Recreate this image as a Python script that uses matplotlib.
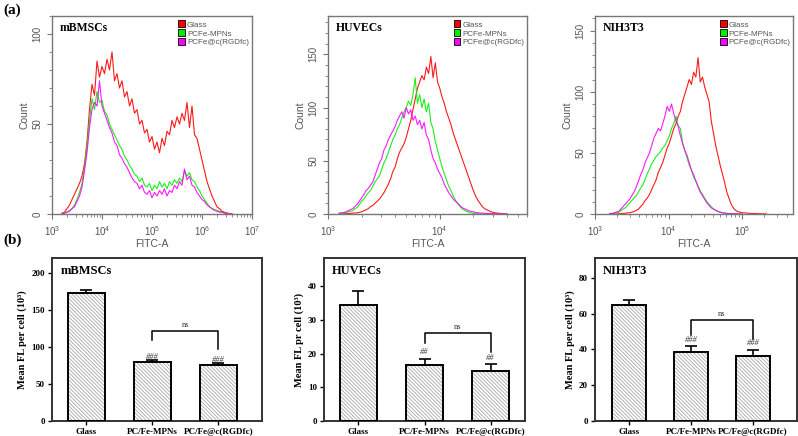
import numpy as np
import matplotlib
matplotlib.use("Agg")
import matplotlib.pyplot as plt
from matplotlib.patches import Patch
from matplotlib.ticker import MultipleLocator, LogLocator, NullFormatter

# ---- flow cytometry histograms (counts) ----
hist_labels = ["Glass", "PCFe-MPNs", "PCFe@c(RGDfc)"]
hist_colors = ["#ff0000", "#00ee00", "#ff00ff"]

# mBMSCs: log10(FITC-A) from 3.20, step 0.05
mbmsc_glass = [0.5, 1, 3, 5, 8, 11, 14, 17, 21, 28, 40, 58, 72, 66, 85, 76, 82, 78, 86, 80,
               90, 74, 78, 70, 74, 65, 68, 60, 64, 56, 58, 50, 52, 45, 47, 40, 43, 36, 40, 34,
               42, 38, 46, 44, 52, 48, 54, 50, 56, 52, 62, 48, 60, 44, 42, 36, 30, 24, 18, 14,
               10, 7, 4, 3, 1.5, 1, 0.5, 0.3, 0]
mbmsc_mpn = [0.3, 0.5, 1, 2, 3, 5, 8, 12, 17, 26, 38, 52, 64, 58, 68, 62, 63, 57, 55, 50,
             47, 44, 41, 38, 36, 32, 30, 27, 25, 22, 21, 18, 20, 16, 15, 17, 13, 16, 14, 18,
             15, 17, 14, 18, 16, 19, 17, 20, 18, 24, 21, 23, 19, 18, 15, 13, 10, 8, 6, 4,
             3, 2.5, 2, 1.5, 1, 0.5, 0.3, 0.2, 0]
mbmsc_rgd = [0.3, 0.5, 1, 1.5, 3, 4, 7, 10, 15, 24, 34, 48, 58, 62, 60, 74, 60, 56, 52, 48,
             45, 40, 38, 33, 31, 28, 26, 23, 20, 18, 17, 14, 16, 12, 11, 13, 9, 12, 10, 13,
             11, 14, 10, 13, 12, 16, 14, 18, 16, 25, 19, 21, 16, 15, 12, 10, 8, 7, 5, 4,
             3, 2, 1.5, 1, 1, 0.5, 0.3, 0.2, 0]

# HUVECs: log10(FITC-A) from 3.10, step 0.02
huvec_glass = [0, 0, 0.2, 0.3, 0.5, 0.5, 0.8, 1, 1, 1.5, 2, 3, 4, 5, 7, 8, 10, 12, 14, 17,
               20, 24, 28, 33, 40, 44, 52, 58, 62, 66, 72, 80, 88, 98, 108, 118, 124, 130, 126, 138,
               132, 148, 128, 142, 124, 118, 110, 104, 96, 90, 84, 76, 70, 64, 58, 52, 46, 40, 34, 28,
               22, 17, 13, 10, 7, 5, 4, 3, 2, 1.5, 1, 0.8, 0.5, 0.3, 0.2, 0]
huvec_mpn = [0.5, 0.5, 1, 1.5, 2, 2.5, 3, 5, 6, 9, 12, 14, 17, 20, 22, 26, 30, 33, 36, 42,
             48, 52, 58, 64, 70, 74, 80, 84, 90, 96, 100, 106, 102, 112, 128, 104, 112, 100, 108, 96,
             104, 86, 80, 68, 60, 52, 44, 38, 32, 26, 22, 17, 13, 10, 7, 5, 3.5, 2.5, 1.5, 1,
             0.5, 0.3, 0.2, 0.1, 0, 0, 0, 0, 0, 0, 0, 0, 0, 0, 0, 0]
huvec_rgd = [1, 1, 1.5, 2, 3, 4, 5, 7, 9, 12, 15, 18, 22, 24, 27, 30, 36, 42, 48, 52,
             60, 64, 70, 74, 78, 82, 88, 92, 96, 90, 100, 94, 98, 88, 92, 84, 88, 80, 86, 74,
             70, 60, 52, 48, 42, 38, 34, 28, 24, 20, 17, 14, 12, 10, 8, 6, 5, 4, 3, 2.5,
             2, 1.5, 1.2, 1, 0.8, 0.6, 0.5, 0.4, 0.3, 0.3, 0.2, 0.2, 0.5, 0.2, 0.1, 0]

# NIH3T3: log10(FITC-A) from 3.20, step 0.03
nih_glass = [0, 0, 0, 0, 0.2, 0.3, 0.5, 0.5, 1, 1, 1.5, 2, 3, 4, 6, 8, 11, 13, 16, 20,
             24, 28, 34, 38, 42, 48, 54, 58, 64, 70, 74, 80, 84, 92, 98, 104, 110, 106, 116, 112,
             128, 108, 112, 104, 98, 92, 76, 66, 56, 48, 40, 33, 26, 18, 13, 8, 5, 3, 2, 1.5,
             1, 1, 0.8, 0.5, 0.5, 0.3, 0.5, 0.2, 0.3, 0, 0.2, 0]
nih_mpn = [0, 0.2, 0.5, 1, 1.5, 2.5, 4, 5, 7, 9, 11, 13, 15, 18, 21, 24, 28, 33, 37, 41,
           44, 47, 49, 51, 54, 56, 60, 64, 70, 74, 80, 72, 70, 58, 52, 46, 40, 36, 30, 27,
           23, 19, 16, 13, 10, 8, 6, 4, 3, 2, 1.5, 1, 0.8, 0.5, 0.4, 0.3, 0.2, 0.2, 0.1, 0, 0]
nih_rgd = [0.3, 0.5, 1, 1.5, 2, 4, 6, 8, 10, 12, 15, 18, 22, 27, 32, 36, 42, 46, 50, 56,
           62, 66, 70, 68, 74, 80, 88, 84, 90, 82, 76, 72, 64, 58, 52, 48, 42, 36, 32, 27,
           22, 18, 15, 12, 9, 7, 5, 4, 3, 2, 1.5, 1, 0.8, 0.5, 0.3, 0.3, 0.2, 0.2, 0.1, 0, 0]

# ---- mean fluorescence bar charts ----
groups = ["Glass", "PC/Fe-MPNs", "PC/Fe@c(RGDfc)"]
mbmsc_mean = [173, 79, 75]
mbmsc_err = [4, 3, 3.2]
huvec_mean = [34.4, 16.6, 14.8]
huvec_err = [4.0, 1.8, 2.1]
nih_mean = [65, 38.8, 36.5]
nih_err = [2.8, 2.8, 3.2]
mbmsc_marks = ["###", "###"]
huvec_marks = ["##", "##"]
nih_marks = ["###", "###"]

W, H = 798, 436
plt.rcParams["hatch.linewidth"] = 0.6
fig = plt.figure(figsize=(W / 100, H / 100), dpi=100)

SANS = ["Liberation Sans", "DejaVu Sans"]
SERIF = ["Liberation Serif", "DejaVu Serif"]
GRAY = "#555555"


def box(l, r, t, b):
    return [l / W, 1 - b / H, (r - l) / W, (b - t) / H]


def draw_hist(rect, start, step, curves, xmax, ymax, ymajor, title):
    ax = fig.add_axes(rect)
    for vals, col in zip(curves, hist_colors):
        x = 10 ** (start + step * np.arange(len(vals)))
        ax.plot(x, vals, color=col, lw=0.8, alpha=0.9)
    ax.set_xscale("log")
    ax.set_xlim(1e3, xmax)
    ax.set_ylim(0, ymax)
    ax.xaxis.set_major_locator(LogLocator(base=10, numticks=10))
    ax.xaxis.set_minor_locator(LogLocator(base=10, subs=np.arange(2, 10), numticks=20))
    ax.xaxis.set_minor_formatter(NullFormatter())
    ax.yaxis.set_major_locator(MultipleLocator(ymajor))
    ax.yaxis.set_minor_locator(MultipleLocator(10))
    for s in ax.spines.values():
        s.set_color("#777777")
        s.set_linewidth(1.0)
    ax.tick_params(which="both", direction="out", colors="#777777", labelcolor=GRAY,
                   labelsize=7)
    ax.tick_params(which="major", length=3.5)
    ax.tick_params(which="minor", length=2)
    for lab in ax.get_yticklabels():
        lab.set_rotation(90)
        lab.set_va("center")
        lab.set_family(SANS)
    for lab in ax.get_xticklabels():
        lab.set_family(SANS)
    ax.set_ylabel("Count", color=GRAY, fontsize=7.5, family=SANS, labelpad=2)
    ax.set_xlabel("FITC-A", color=GRAY, fontsize=7.5, family=SANS, labelpad=1)
    ax.text(0.04, 0.94, title, transform=ax.transAxes, family=SERIF, weight="bold",
            fontsize=8.5, va="center", ha="left")
    handles = [Patch(facecolor=c, edgecolor="black", lw=0.6) for c in hist_colors]
    leg = ax.legend(handles, hist_labels, loc="upper left", bbox_to_anchor=(0.6, 1.01),
                    frameon=False, prop={"family": SANS, "size": 5.8},
                    handlelength=0.8, handleheight=0.9, labelspacing=0.1,
                    handletextpad=0.25, borderpad=0.3)
    for t in leg.get_texts():
        t.set_color(GRAY)
    return ax


def draw_bars(rect, means, errs, xlim, ymax, ymajor, title, ylabel, marks,
              bracket, legs, mark_y):
    ax = fig.add_axes(rect)
    pos = np.arange(len(means))
    ax.bar(pos, means, width=0.55, color="white", edgecolor="#a8a8a8", lw=0,
           hatch="\\" * 9, zorder=2)
    ax.bar(pos, means, width=0.55, fill=False, edgecolor="black", lw=1.4, zorder=3)
    ax.errorbar(pos, means, yerr=[np.zeros(len(errs)), errs], fmt="none", ecolor="black",
                elinewidth=1.2, capsize=4.5, capthick=1.2, zorder=4)
    ax.set_xlim(*xlim)
    ax.set_ylim(0, ymax)
    ax.yaxis.set_major_locator(MultipleLocator(ymajor))
    ax.set_xticks(pos)
    ax.set_xticklabels(groups)
    for s in ax.spines.values():
        s.set_color("#333333")
        s.set_linewidth(1.4)
    ax.tick_params(direction="out", length=3, width=1.0, labelsize=6.5, pad=2)
    for lab in ax.get_xticklabels() + ax.get_yticklabels():
        lab.set_family(SERIF)
        lab.set_weight("bold")
    ax.set_ylabel(ylabel, family=SERIF, weight="bold", fontsize=7.5, labelpad=3)
    ax.text(0.04, 0.92, title, transform=ax.transAxes, family=SERIF, weight="bold",
            fontsize=9, va="center", ha="left")
    # significance bracket between the two coated groups
    ax.plot([1, 1, 2, 2], [legs[0], bracket, bracket, legs[1]], color="black", lw=1.1,
            zorder=4)
    ax.text(1.5, bracket + ymax * 0.012, "ns", family=SERIF, fontsize=6, ha="center",
            va="bottom", color="#333333")
    for i, m in enumerate(marks):
        ax.text(pos[i + 1], mark_y[i], m, family=SERIF, fontsize=6, style="italic",
                ha="center", va="center", color="#333333")
    return ax


draw_hist(box(52, 252, 16, 214), 3.20, 0.05, [mbmsc_glass, mbmsc_mpn, mbmsc_rgd],
          1e7, 110, 50, "mBMSCs")
draw_hist(box(328, 527, 16, 214), 3.10, 0.02, [huvec_glass, huvec_mpn, huvec_rgd],
          10 ** 4.78, 186, 50, "HUVECs")
draw_hist(box(595, 793, 16, 214), 3.20, 0.03, [nih_glass, nih_mpn, nih_rgd],
          10 ** 5.69, 162, 50, "NIH3T3")

draw_bars(box(52, 262, 258, 421), mbmsc_mean, mbmsc_err, (-0.52, 2.66), 220, 50,
          "mBMSCs", "Mean FL per cell (10³)", mbmsc_marks, 122, (109, 97), (86, 83))
draw_bars(box(324, 525, 258, 421), huvec_mean, huvec_err, (-0.52, 2.52), 48.3, 10,
          "HUVECs", "Mean FL pr cell (10³)", huvec_marks, 26, (23, 20.5), (20.3, 18.6))
draw_bars(box(595, 797, 258, 421), nih_mean, nih_err, (-0.55, 2.71), 91, 20,
          "NIH3T3", "Mean FL per cell (10³)", nih_marks, 56.4, (48, 46), (45.5, 43.5))

fig.text(3 / W, 1 - 10 / H, "(a)", family=SERIF, weight="bold", fontsize=11, va="center")
fig.text(3 / W, 1 - 240 / H, "(b)", family=SERIF, weight="bold", fontsize=11, va="center")

fig.savefig("out.png", dpi=100)
